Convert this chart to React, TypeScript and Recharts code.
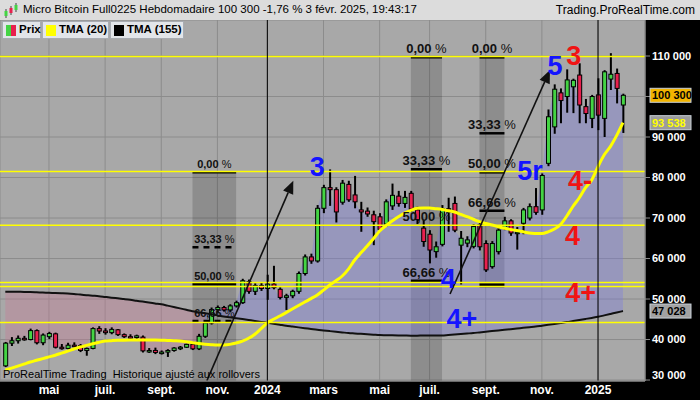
import {
  Area,
  Bar,
  CartesianGrid,
  ComposedChart,
  Line,
  ReferenceArea,
  ReferenceDot,
  ReferenceLine,
  XAxis,
  YAxis,
} from "recharts";

// weekly bars, Mar 13 2023 -> Feb 3 2025
const opens = [
  33500, 39100, 39700, 40300, 40000, 42200, 39200, 40700, 41400, 38100,
  37800, 38600, 38500, 37300, 37800, 42700, 42100, 41700, 42400, 41200,
  40700, 40500, 40600, 37200, 37300, 36800, 36900, 37300, 37900, 38100,
  38800, 37700, 40800, 44100, 47400, 47900, 47300, 48300, 49100, 54300,
  51900, 53300, 52600, 53700, 52400, 50400, 50800, 51900, 56300, 60400,
  59400, 72400, 77500, 77000, 73900, 78300, 75700, 72000, 71700, 70800,
  70300, 68500, 73000, 75400, 73600, 76100, 72000, 67500, 66000, 61700,
  63500, 72300, 73600, 63300, 63800, 63000, 68300, 63700, 58000, 61700,
  67500, 69300, 66300, 68700, 70000, 72800, 72000, 83500, 92500, 100900,
  100000, 102400, 105300, 97500, 94600, 100400, 94600, 104300, 105700, 97900,
];
const highs = [
  39400, 40600, 41000, 40900, 42700, 42500, 41500, 41900, 41700, 38900,
  39200, 39300, 38900, 38000, 43000, 43300, 42800, 43000, 42600, 41500,
  41300, 41200, 41000, 37900, 38000, 37300, 37600, 38100, 38400, 39000,
  39000, 41400, 44500, 47900, 48400, 48300, 48700, 49600, 55000, 54800,
  53900, 54000, 56000, 58200, 52900, 51300, 52300, 56800, 61000, 61200,
  73200, 78200, 82000, 77600, 79400, 79200, 80400, 74000, 72600, 71800,
  71200, 74600, 78500, 76700, 76700, 76700, 72800, 69500, 67000, 64200,
  73200, 75000, 75300, 66800, 65500, 68500, 69200, 64500, 64300, 67500,
  70300, 69700, 67800, 72500, 73600, 77400, 81000, 96800, 103000, 102000,
  106700, 104400, 108200, 99400, 100400, 104500, 106500, 110700, 106900, 100700,
];
const lows = [
  33200, 38400, 39000, 39700, 39800, 38800, 38600, 40100, 37800, 37500,
  37600, 38100, 36900, 36000, 37600, 41400, 41200, 41300, 40900, 40400,
  40100, 40100, 36800, 36700, 36400, 36300, 35700, 37000, 37400, 37900,
  37400, 37400, 40400, 43700, 46600, 46900, 46800, 47900, 48800, 51300,
  51000, 52000, 49800, 52400, 49900, 47300, 50200, 51300, 55800, 58700,
  59000, 71200, 73000, 68900, 73300, 74000, 72400, 66600, 70300, 63300,
  66700, 67800, 72000, 72800, 72500, 71500, 68500, 62900, 58800, 60200,
  63000, 66600, 66500, 53600, 62800, 62500, 62000, 56700, 57500, 61000,
  67000, 65600, 62200, 66000, 69400, 70800, 70800, 82800, 90800, 93400,
  96000, 95900, 93400, 93400, 92200, 91700, 90000, 101600, 98300, 91000,
];
const closes = [
  39100, 39700, 40300, 40000, 42200, 39200, 41100, 41500, 38100, 37800,
  38600, 38400, 37300, 37800, 42700, 42100, 41700, 42500, 41200, 40700,
  40500, 40900, 37200, 37300, 36800, 36900, 37300, 37900, 38100, 38800,
  37700, 40800, 44100, 47400, 47900, 47300, 48300, 49100, 54500, 51900,
  53300, 52600, 53700, 52800, 50400, 50800, 51900, 56300, 60400, 59400,
  72400, 77500, 77000, 71500, 78600, 74500, 74000, 71500, 71000, 69100,
  67200, 74000, 75600, 73600, 75100, 72200, 69600, 64200, 62100, 62900,
  72300, 71500, 67000, 65000, 64600, 67900, 62900, 57200, 63700, 67000,
  69300, 66300, 66500, 72000, 72800, 71400, 80500, 95000, 101800, 99000,
  104100, 104000, 97900, 95800, 100000, 95400, 106100, 105500, 102000, 100300,
];
const tma20 = [
  32470, 32950, 33450, 33950, 34450, 34870, 35290, 35710, 36130, 36630,
  37140, 37650, 38150, 38550, 38950, 39300, 39630, 39720, 39800, 39850,
  39880, 39900, 39900, 39890, 39880, 39840, 39780, 39700, 39630, 39450,
  39230, 39010, 38850, 38720, 38640, 38660, 38800, 39140, 39600, 40300,
  41300, 42700, 44100, 45000, 45800, 46650, 47530, 48400, 49260, 50100,
  50990, 52200, 53460, 54500, 55680, 57400, 59630, 61400, 63090, 64900,
  66790, 68100, 69260, 70300, 71240, 71900, 72400, 72500, 72470, 72300,
  72100, 71800, 71480, 70900, 70320, 69700, 69090, 68650, 68270, 67850,
  67460, 67180, 66910, 66600, 66300, 66200, 66170, 66600, 67290, 68400,
  70500, 72900, 75000, 77500, 79400, 82700, 85600, 87700, 90400, 93538,
];
const tma155 = [
  51800, 51790, 51770, 51760, 51720, 51660, 51600, 51540, 51480, 51420,
  51350, 51240, 51100, 50960, 50830, 50700, 50520, 50340, 50170, 49990,
  49800, 49580, 49360, 49150, 48920, 48700, 48370, 48030, 47690, 47340,
  47000, 46740, 46480, 46220, 45960, 45700, 45480, 45260, 45040, 44820,
  44600, 44360, 44120, 43880, 43640, 43400, 43200, 43000, 42800, 42600,
  42400, 42240, 42080, 41920, 41760, 41600, 41500, 41400, 41300, 41200,
  41100, 41070, 41040, 41010, 40980, 40950, 40960, 40970, 40980, 40990,
  41000, 41120, 41240, 41360, 41480, 41600, 41760, 41920, 42080, 42240,
  42400, 42560, 42720, 42880, 43040, 43200, 43420, 43640, 43860, 44080,
  44300, 44560, 44820, 45080, 45340, 45600, 45960, 46320, 46680, 47028,
];

// first weekly bar of each labelled month
const monthTicks = [7, 16, 25, 34, 42, 51, 60, 68, 77, 86, 95];
const monthLabels = ["mai", "juil.", "sept.", "nov.", "2024", "mars", "mai", "juil.", "sept.", "nov.", "2025"];
const yearStarts = [42, 95];
const priceTicks = [30000, 40000, 50000, 60000, 70000, 80000, 90000, 100000, 110000];

const supportLines = [109880, 81480, 68220, 54100, 53110, 44220];

const fibBoxes = [
  { from: 30, to: 37, top: 81280, bottom: 29760 },
  { from: 65, to: 70, top: 109680, bottom: 29760 },
  { from: 76, to: 80, top: 109680, bottom: 53400 },
];
const fibLevels = [
  [
    { pct: "0,00", value: 81280 },
    { pct: "33,33", value: 62770 },
    { pct: "50,00", value: 53630 },
    { pct: "66,66", value: 44570 },
  ],
  [
    { pct: "0,00", value: 109680 },
    { pct: "33,33", value: 82030 },
    { pct: "50,00", value: 68200 },
    { pct: "66,66", value: 54520 },
  ],
  [
    { pct: "0,00", value: 109680 },
    { pct: "33,33", value: 90920 },
    { pct: "50,00", value: 81280 },
    { pct: "66,66", value: 71800 },
    { pct: "", value: 53400 },
  ],
];

const trendArrows = [
  [{ x: 32.3, y: 29800 }, { x: 46.16, y: 79210 }],
  [{ x: 71.28, y: 51240 }, { x: 87.3, y: 106540 }],
];

const blueWaves = [
  { text: "3", x: 50.0, y: 80370 },
  { text: "5", x: 88.1, y: 105310 },
  { text: "5r", x: 84.1, y: 79380 },
  { text: "4", x: 71.0, y: 52720 },
  { text: "4+", x: 73.2, y: 42840 },
];
const redWaves = [
  { text: "3", x: 91.1, y: 107780 },
  { text: "4-", x: 92.1, y: 76920 },
  { text: "4", x: 90.9, y: 63330 },
  { text: "4+", x: 92.2, y: 49260 },
];

const xDomain = [-0.85, 102.53];
const yDomain = [29760, 118890];

const GREEN = "#44d444";
const RED = "#e8204e";
const FONT = '"Liberation Sans", Arial, sans-serif';

const lastClose = closes[closes.length - 1];
const crossIndex = 32;
const rows = closes.map((c, i) => ({
  i,
  open: opens[i],
  high: highs[i],
  low: lows[i],
  close: c,
  range: [lows[i], highs[i]],
  tma20: tma20[i],
  tma155: tma155[i],
  below: i <= crossIndex ? [c, tma155[i]] : null,
  above: i >= crossIndex ? [tma155[i], c] : null,
}));

const fmt = (v: number) => String(Math.round(v)).replace(/\B(?=(\d{3})+(?!\d))/g, " ");

function Candle(props: any) {
  const { x, y, width, height, payload } = props;
  if (!payload || height == null) return null;
  const top = Math.min(y, y + height);
  const span = Math.abs(height);
  const toPx = (v: number) => top + ((payload.high - v) / (payload.high - payload.low)) * span;
  const yo = toPx(payload.open);
  const yc = toPx(payload.close);
  const cx = x + width / 2;
  const bodyTop = Math.min(yo, yc);
  const bodyH = Math.max(Math.abs(yc - yo), 1.5);
  return (
    <g>
      <line x1={cx} x2={cx} y1={top} y2={top + span} stroke="#000" strokeWidth={2} />
      <rect
        x={cx - 2}
        y={bodyTop}
        width={4}
        height={bodyH}
        fill={payload.close >= payload.open ? GREEN : RED}
        stroke="#000"
        strokeWidth={1}
      />
    </g>
  );
}

function Arrow(p: any) {
  const { x1, y1, x2, y2 } = p;
  const a = Math.atan2(y2 - y1, x2 - x1);
  const len = 13;
  const half = 5.5;
  const bx = x2 - len * Math.cos(a);
  const by = y2 - len * Math.sin(a);
  const nx = -Math.sin(a) * half;
  const ny = Math.cos(a) * half;
  return (
    <g>
      <line x1={x1} y1={y1} x2={bx} y2={by} stroke="#111" strokeWidth={1.6} />
      <polygon points={`${x2},${y2} ${bx + nx},${by + ny} ${bx - nx},${by - ny}`} fill="#111" />
    </g>
  );
}

function PriceTick(props: any) {
  const { x, y, payload } = props;
  // the last-price tag sits over this label
  if (Math.abs(payload.value - lastClose) < 2500) return null;
  const shift = payload.value === priceTicks[0] ? -5 : 0;
  return (
    <text x={x} y={y + shift} dy="0.36em" fill="#fff" fontSize={11} fontWeight="bold" fontFamily={FONT}>
      {fmt(payload.value)}
    </text>
  );
}

function PriceTag({ cx, cy, text, fill, color }: any) {
  return (
    <g>
      <rect x={cx + 5} y={cy - 7} width={41} height={14} fill={fill} stroke="#c8d0d8" strokeWidth={1} />
      <text x={cx + 7} y={cy + 4} fill={color} fontSize={11} fontWeight="bold" fontFamily={FONT}>
        {text}
      </text>
    </g>
  );
}

function Header() {
  return (
    <div
      style={{
        position: "absolute",
        left: 0,
        top: 0,
        width: 700,
        height: 20,
        background: "#dcdcdc",
        fontFamily: FONT,
        color: "#000",
      }}
    >
      <svg width={20} height={20} style={{ position: "absolute", left: 2, top: 0 }}>
        <line x1={4} x2={4} y1={9} y2={18} stroke="#444" />
        <rect x={2.5} y={11} width={3} height={5} fill={GREEN} />
        <line x1={9} x2={9} y1={6} y2={15} stroke="#444" />
        <rect x={7.5} y={8} width={3} height={5} fill={RED} />
        <line x1={14} x2={14} y1={3} y2={12} stroke="#444" />
        <rect x={12.5} y={5} width={3} height={5} fill={GREEN} />
      </svg>
      <span style={{ position: "absolute", left: 23, top: 3, fontSize: 11.5, whiteSpace: "nowrap" }}>
        Micro Bitcoin Full0225 Hebdomadaire 100 300 -1,76 % 3 févr. 2025, 19:43:17
      </span>
      <span style={{ position: "absolute", right: 5, top: 3, fontSize: 12, whiteSpace: "nowrap" }}>
        Trading.ProRealTime.com
      </span>
    </div>
  );
}

function LegendBox({ left, width, swatch, label }: any) {
  return (
    <div
      style={{
        position: "absolute",
        left,
        top: 21,
        width,
        height: 18,
        background: "#e2e5e9",
        border: "1px solid #a8acb2",
        fontFamily: FONT,
        fontSize: 11.5,
        fontWeight: "bold",
        boxSizing: "border-box",
        whiteSpace: "nowrap",
      }}
    >
      <div style={{ position: "absolute", left: 3, top: 3, width: 10, height: 11, background: swatch }} />
      <span style={{ position: "absolute", left: 16, top: 1 }}>{label}</span>
    </div>
  );
}

export default function App() {
  return (
    <div style={{ position: "absolute", left: 0, top: 0, width: 700, height: 400, background: "#000", overflow: "hidden" }}>
      <ComposedChart width={700} height={400} data={rows} margin={{ top: 20, right: 0, bottom: 0, left: 0 }}>
        <CartesianGrid fill="#a8a8a8" stroke="#8c8c8c" strokeWidth={1} />
        <XAxis
          dataKey="i"
          type="number"
          domain={xDomain}
          allowDataOverflow
          ticks={monthTicks}
          tickFormatter={(v: number) => monthLabels[monthTicks.indexOf(v)]}
          height={19}
          tickSize={3}
          tickMargin={1}
          tickLine={false}
          axisLine={{ stroke: "#8c8c8c" }}
          tick={{ fill: "#fff", fontSize: 12, fontWeight: "bold", fontFamily: FONT }}
        />
        <YAxis
          orientation="right"
          type="number"
          domain={yDomain}
          allowDataOverflow
          ticks={priceTicks}
          width={55}
          tickSize={5}
          tickMargin={2}
          tickLine={{ stroke: "#8c8c8c" }}
          axisLine={{ stroke: "#8c8c8c" }}
          tick={<PriceTick />}
        />
        {fibBoxes.map((b, k) => (
          <ReferenceArea
            key={`box${k}`}
            x1={b.from}
            x2={b.to}
            y1={b.bottom}
            y2={b.top}
            fill="#000"
            fillOpacity={0.16}
            stroke="none"
            ifOverflow="hidden"
          />
        ))}
        <Area
          dataKey="below"
          stroke="none"
          fill="rgb(200,120,150)"
          fillOpacity={0.35}
          isAnimationActive={false}
          activeDot={false}
        />
        <Area
          dataKey="above"
          stroke="none"
          fill="rgb(120,120,225)"
          fillOpacity={0.35}
          isAnimationActive={false}
          activeDot={false}
        />
        <Line dataKey="tma155" stroke="#111" strokeWidth={2} dot={false} type="monotone" isAnimationActive={false} />
        {fibBoxes.map((b, k) =>
          fibLevels[k].map((lvl, j) =>
            k === 1 && j === 2 ? null : (
              <ReferenceLine
                key={`fl${k}-${j}`}
                segment={[
                  { x: b.from, y: lvl.value },
                  { x: b.to, y: lvl.value },
                ]}
                stroke="#000"
                strokeWidth={k === 2 && j === 4 ? 4 : 2.5}
                strokeDasharray={k === 0 && (j === 1 || j === 3) ? "6 5" : undefined}
              />
            )
          )
        )}
        {fibBoxes.map((b, k) =>
          fibLevels[k].map((lvl, j) =>
            lvl.pct ? (
              <ReferenceDot
                key={`ft${k}-${j}`}
                x={(b.from + b.to) / 2}
                y={lvl.value}
                r={0}
                ifOverflow="visible"
                shape={(p: any) => (
                  <text
                    x={p.cx}
                    y={p.cy - 4}
                    textAnchor="middle"
                    fill="#111"
                    fontSize={k === 0 ? 11 : 13}
                    fontFamily={FONT}
                  >
                    <tspan fontWeight="bold">{lvl.pct}</tspan>
                    <tspan> %</tspan>
                  </text>
                )}
              />
            ) : null
          )
        )}
        <Bar dataKey="range" barSize={5} shape={<Candle />} isAnimationActive={false} />
        <Line dataKey="tma20" stroke="#ffff00" strokeWidth={3} dot={false} type="monotone" isAnimationActive={false} />
        {supportLines.map((v) => (
          <ReferenceLine key={`s${v}`} y={v} stroke="#ffff00" strokeWidth={1.5} />
        ))}
        {yearStarts.map((v) => (
          <ReferenceLine key={`yr${v}`} x={v} stroke="#000" strokeWidth={1} />
        ))}
        {trendArrows.map((seg, k) => (
          <ReferenceLine key={`ar${k}`} segment={seg} ifOverflow="visible" shape={Arrow} />
        ))}
        {blueWaves.map((w, k) => (
          <ReferenceDot
            key={`bw${k}`}
            x={w.x}
            y={w.y}
            r={0}
            ifOverflow="visible"
            shape={(p: any) => (
              <text x={p.cx} y={p.cy} textAnchor="middle" fill="#1414ff" fontSize={27} fontWeight="bold" fontFamily={FONT}>
                {w.text}
              </text>
            )}
          />
        ))}
        {redWaves.map((w, k) => (
          <ReferenceDot
            key={`rw${k}`}
            x={w.x}
            y={w.y}
            r={0}
            ifOverflow="visible"
            shape={(p: any) => (
              <text x={p.cx} y={p.cy} textAnchor="middle" fill="#f01414" fontSize={27} fontWeight="bold" fontFamily={FONT}>
                {w.text}
              </text>
            )}
          />
        ))}
        <ReferenceDot
          x={xDomain[1]}
          y={lastClose}
          r={0}
          ifOverflow="visible"
          shape={(p: any) => <PriceTag {...p} text={fmt(lastClose)} fill="#f2b400" color="#000" />}
        />
        <ReferenceDot
          x={xDomain[1]}
          y={tma20[tma20.length - 1]}
          r={0}
          ifOverflow="visible"
          shape={(p: any) => <PriceTag {...p} text={fmt(tma20[tma20.length - 1])} fill="#9c9c9c" color="#ffff00" />}
        />
        <ReferenceDot
          x={xDomain[1]}
          y={tma155[tma155.length - 1]}
          r={0}
          ifOverflow="visible"
          shape={(p: any) => <PriceTag {...p} text={fmt(tma155[tma155.length - 1])} fill="#a2a2a2" color="#000" />}
        />
      </ComposedChart>
      <Header />
      <LegendBox left={2} width={39} swatch={`linear-gradient(90deg, ${GREEN} 50%, ${RED} 50%)`} label="Prix" />
      <LegendBox left={42} width={67} swatch="#ffff00" label="TMA (20)" />
      <LegendBox left={110} width={74} swatch="#000" label="TMA (155)" />
      <div
        style={{
          position: "absolute",
          left: 3,
          top: 368,
          fontFamily: FONT,
          fontSize: 11,
          color: "#000",
          whiteSpace: "pre",
        }}
      >
        ProRealTime Trading  Historique ajusté aux rollovers
      </div>
    </div>
  );
}
